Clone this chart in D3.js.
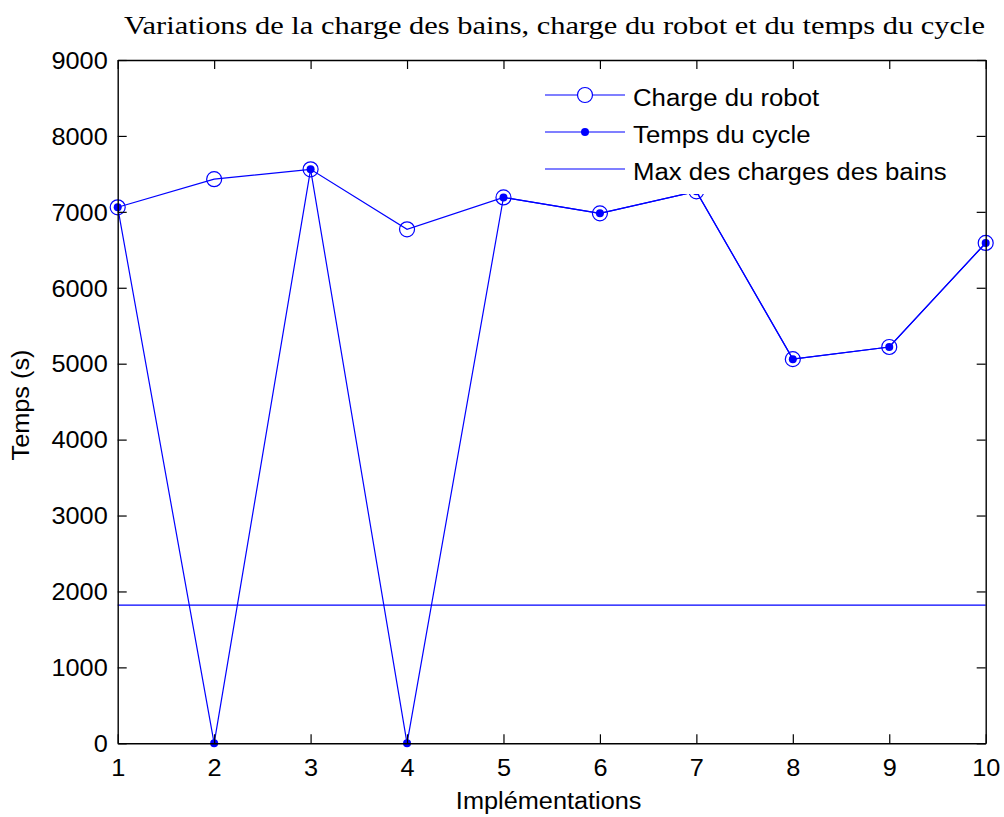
<!DOCTYPE html>
<html>
<head>
<meta charset="utf-8">
<script src="https://cdn.jsdelivr.net/npm/d3@7"></script>
<style>
  html, body { margin: 0; padding: 0; background: #fff; }
  svg { display: block; }
  .sans { font-family: "Liberation Sans", Arial, sans-serif; }
</style>
</head>
<body>
<svg id="chart" width="1004" height="817"></svg>
<script>
// ---- data ----
const implementations = [1, 2, 3, 4, 5, 6, 7, 8, 9, 10];
const chargeRobot = [7060, 7430, 7560, 6770, 7190, 6980, 7270, 5060, 5220, 6590];
const tempsCycle  = [7060, 0, 7560, 0, 7190, 6980, 7270, 5060, 5220, 6590];
const maxChargesBains = [1820, 1820, 1820, 1820, 1820, 1820, 1820, 1820, 1820, 1820];
const xTicks = [1, 2, 3, 4, 5, 6, 7, 8, 9, 10];
const yTicks = [0, 1000, 2000, 3000, 4000, 5000, 6000, 7000, 8000, 9000];
const legendLabels = ["Charge du robot", "Temps du cycle", "Max des charges des bains"];
const titleText = "Variations de la charge des bains, charge du robot et du temps du cycle";
const xLabel = "Implémentations";
const yLabel = "Temps (s)";

// ---- layout ----
const L = 117.7, R = 985.7, T = 60, B = 743.3;
const blue = "#0000ff";
const svg = d3.select("#chart");
const x = d3.scaleLinear().domain([1, 10]).range([L, R]);
const y = d3.scaleLinear().domain([0, 9000]).range([B, T]);

function stretch(sel, k) {
  sel.each(function () {
    const w = this.getComputedTextLength();
    d3.select(this).attr("textLength", w * k).attr("lengthAdjust", "spacingAndGlyphs");
  });
}

// ---- series ----
const line = d3.line().x((d, i) => x(implementations[i])).y(d => y(d));
const plot = svg.append("g");

plot.append("path").datum(chargeRobot).attr("d", line)
  .attr("fill", "none").attr("stroke", blue).attr("stroke-width", 1.2);
plot.selectAll("circle.cr").data(chargeRobot).enter().append("circle")
  .attr("class", "cr")
  .attr("cx", (d, i) => x(implementations[i])).attr("cy", d => y(d))
  .attr("r", 7.5).attr("fill", "none").attr("stroke", blue).attr("stroke-width", 1.2);

plot.append("path").datum(tempsCycle).attr("d", line)
  .attr("fill", "none").attr("stroke", blue).attr("stroke-width", 1.2);
plot.selectAll("circle.tc").data(tempsCycle).enter().append("circle")
  .attr("class", "tc")
  .attr("cx", (d, i) => x(implementations[i])).attr("cy", d => y(d))
  .attr("r", 4).attr("fill", blue);

plot.append("path").datum(maxChargesBains).attr("d", line)
  .attr("fill", "none").attr("stroke", blue).attr("stroke-width", 1.2);

// ---- legend ----
const lg = svg.append("g");
lg.append("rect").attr("x", 538).attr("y", 72).attr("width", 425).attr("height", 122).attr("fill", "#fff");
const rowY = [95, 132, 169];
legendLabels.forEach((lab, i) => {
  lg.append("line").attr("x1", 545).attr("x2", 625).attr("y1", rowY[i]).attr("y2", rowY[i])
    .attr("stroke", blue).attr("stroke-width", 1.2);
  if (i === 0) lg.append("circle").attr("cx", 585).attr("cy", rowY[i]).attr("r", 7.5)
    .attr("fill", "#fff").attr("stroke", blue).attr("stroke-width", 1.2);
  if (i === 1) lg.append("circle").attr("cx", 585).attr("cy", rowY[i]).attr("r", 4).attr("fill", blue);
  lg.append("text").attr("class", "sans").attr("x", 633).attr("y", rowY[i] + 10.5)
    .attr("font-size", 23).attr("fill", "#000").text(lab).call(stretch, 1.12);
});

// ---- axes ----
function styleAxis(g) {
  g.select(".domain").attr("stroke", "#000").attr("stroke-width", 1.4);
  g.selectAll(".tick line").attr("stroke", "#000").attr("stroke-width", 1.2);
  g.selectAll("text").attr("class", "sans").attr("font-size", 23).attr("fill", "#000")
    .attr("font-family", "Liberation Sans, Arial, sans-serif");
}
const gx = svg.append("g").attr("transform", `translate(0,${B})`)
  .call(d3.axisBottom(x).tickValues(xTicks).tickFormat(d3.format("d")).tickSize(-9).tickSizeOuter(0).tickPadding(16))
  .call(styleAxis);
gx.selectAll("text").call(stretch, 1.1);

const gy = svg.append("g").attr("transform", `translate(${L},0)`)
  .call(d3.axisLeft(y).tickValues(yTicks).tickFormat(d3.format("d")).tickSize(-9).tickSizeOuter(0).tickPadding(10))
  .call(styleAxis);
gy.selectAll("text").attr("dy", "0.36em").call(stretch, 1.1);

svg.append("g").attr("transform", `translate(0,${T})`)
  .call(d3.axisTop(x).tickValues(xTicks).tickFormat("").tickSize(-9).tickSizeOuter(0))
  .call(styleAxis);
svg.append("g").attr("transform", `translate(${R},0)`)
  .call(d3.axisRight(y).tickValues(yTicks).tickFormat("").tickSize(-9).tickSizeOuter(0))
  .call(styleAxis);

// ---- titles ----
svg.append("text").attr("x", 124).attr("y", 34)
  .attr("font-family", "Liberation Serif, 'Times New Roman', serif").attr("font-size", 25)
  .attr("fill", "#000").text(titleText)
  .attr("textLength", 861).attr("lengthAdjust", "spacingAndGlyphs");

svg.append("text").attr("class", "sans").attr("x", (L + R) / 2 - 3).attr("y", 809)
  .attr("text-anchor", "middle").attr("font-size", 23).attr("fill", "#000").text(xLabel)
  .call(stretch, 1.1);

svg.append("text").attr("class", "sans").attr("transform", "translate(29,405) rotate(-90)")
  .attr("text-anchor", "middle").attr("font-size", 23).attr("fill", "#000").text(yLabel)
  .call(stretch, 1.1);
</script>
</body>
</html>
